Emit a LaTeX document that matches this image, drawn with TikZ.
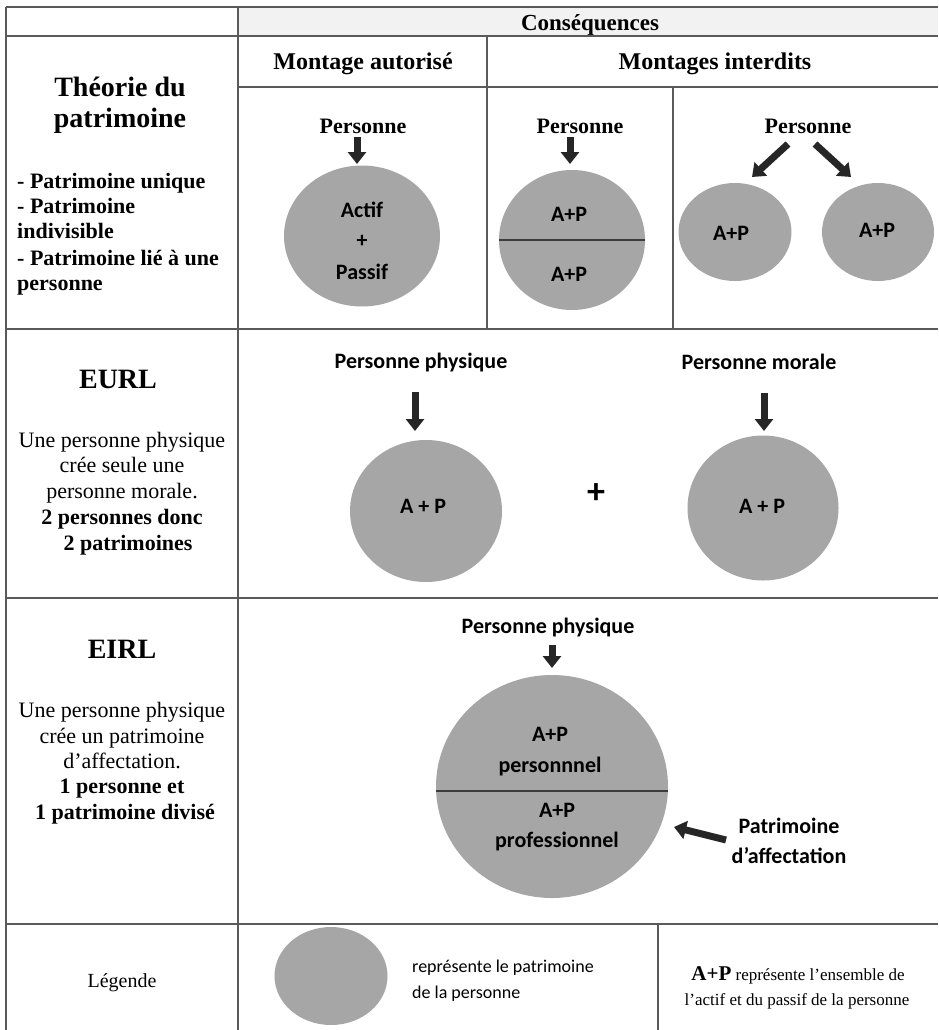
\documentclass[tikz,border=0pt]{standalone}
\usepackage{fontspec}
\setmainfont{Liberation Serif}
\newfontfamily\calfont{Carlito}
\usetikzlibrary{shapes.geometric,arrows.meta}
\definecolor{gridcol}{HTML}{5A5A5A}
\definecolor{patcol}{HTML}{A6A6A6}
\definecolor{arrcol}{HTML}{262626}
\definecolor{headcol}{HTML}{F2F2F2}
\begin{document}
\begin{tikzpicture}[x=1pt,y=-1pt,
  grid/.style={draw=gridcol,line width=1.4pt},
  pat/.style={ellipse,fill=patcol,inner sep=0pt,draw=none},
  blk/.style={draw=arrcol,line width=7pt,-{Triangle[width=18pt,length=12pt]}},
  txt/.style={inner sep=0pt,anchor=base,text=black},
  hdA/.style={txt,font=\fontsize{23}{27}\selectfont\bfseries},
  hdB/.style={txt,font=\fontsize{24}{28}\selectfont\bfseries},
  big/.style={txt,font=\fontsize{28}{32}\selectfont\bfseries},
  sb/.style={txt,font=\fontsize{22}{26}\selectfont\bfseries},
  sr/.style={txt,font=\fontsize{22}{26}\selectfont},
  cb/.style={txt,font=\calfont\fontsize{22}{26}\selectfont\bfseries},
  chord/.style={draw=arrcol!90!white,line width=1.3pt}]
% background and bounding box
\fill[white] (0,0) rectangle (938,1030);
\useasboundingbox (0,0) rectangle (938,1030);
\fill[headcol] (238,7) rectangle (938,36);
% table grid
\draw[grid] (6,7) -- (938,7);
\draw[grid] (6,36) -- (938,36);
\draw[grid] (238,87) -- (938,87);
\draw[grid] (6,329) -- (938,329);
\draw[grid] (6,598) -- (938,598);
\draw[grid] (6,924) -- (938,924);
\draw[grid] (6,7) -- (6,1030);
\draw[grid] (238,7) -- (238,1030);
\draw[grid] (487,36) -- (487,329);
\draw[grid] (673,87) -- (673,329);
\draw[grid] (658,924) -- (658,1030);
% headers
\node[hdA] (cons) at (590,30.5) {Conséquences};
\node[hdB] (maut) at (363,70) {Montage autorisé};
\node[hdB] (mint) at (715,70) {Montages interdits};
% Theorie du patrimoine
\node[big] (th1) at (120,97) {Théorie du};
\node[big] (th2) at (120,128) {patrimoine};
\node[sb,anchor=base west] (b1) at (17,188) {- Patrimoine unique};
\node[sb,anchor=base west] (b2) at (17,213) {- Patrimoine};
\node[sb,anchor=base west] (b3) at (17,238) {indivisible};
\node[sb,anchor=base west] (b4) at (17,265) {- Patrimoine lié à une};
\node[sb,anchor=base west] (b5) at (17,290) {personne};
% row 1 diagrams
\node[sb] (pers1) at (363,133) {Personne};
\node[sb] (pers2) at (580,133) {Personne};
\node[sb] (pers3) at (808,133) {Personne};
\node[pat,minimum width=156pt,minimum height=141pt] (c1) at (362,236) {};
\node[pat,minimum width=146pt,minimum height=140pt] (c2) at (572,240) {};
\node[pat,minimum width=113pt,minimum height=98pt] (c3a) at (735,232) {};
\node[pat,minimum width=112pt,minimum height=98pt] (c3b) at (878,232) {};
\draw[chord] (c2.west) -- (c2.east);
\node[cb] (actif) at (362,217) {Actif};
\node[cb] (plusA) at (362,247) {+};
\node[cb] (passif) at (362,279) {Passif};
\node[cb] (ap2a) at (569,221) {A+P};
\node[cb] (ap2b) at (569,281) {A+P};
\node[cb] (ap3a) at (731,240) {A+P};
\node[cb] (ap3b) at (877,237) {A+P};
\coordinate (s1) at (357,137); \coordinate (t1) at (357,164);
\coordinate (s2) at (570,137); \coordinate (t2) at (570,164);
\coordinate (s3a) at (788,144); \coordinate (t3a) at (752,177);
\coordinate (s3b) at (815,144); \coordinate (t3b) at (851,177);
\draw[blk] (s1) -- (t1);
\draw[blk] (s2) -- (t2);
\draw[blk] (s3a) -- (t3a);
\draw[blk] (s3b) -- (t3b);
% EURL
\node[big] (eurl) at (118,388) {EURL};
\node[sr] (u1) at (122,447) {Une personne physique};
\node[sr] (u2) at (122,472) {crée seule une};
\node[sr] (u3) at (122,498) {personne morale.};
\node[sb] (u4) at (122,524) {2 personnes donc};
\node[sb] (u5) at (128,550) {2 patrimoines};
\node[cb] (pp1) at (421,368) {Personne physique};
\node[cb] (pm) at (759,369) {Personne morale};
\node[pat,minimum width=152pt,minimum height=142pt] (e1) at (426,511) {};
\node[pat,minimum width=151pt,minimum height=145pt] (e2) at (763,508) {};
\node[cb] (ape1) at (423,513) {A + P};
\node[cb] (ape2) at (762,513) {A + P};
\node[inner sep=0pt,font=\calfont\fontsize{36}{40}\selectfont\bfseries] (plusB) at (596,494) {+};
\coordinate (s4) at (415,392); \coordinate (t4) at (415,431);
\coordinate (s5) at (764,393); \coordinate (t5) at (764,431);
\draw[blk] (s4) -- (t4);
\draw[blk] (s5) -- (t5);
% EIRL
\node[big] (eirl) at (122,658) {EIRL};
\node[sr] (v1) at (122,717) {Une personne physique};
\node[sr] (v2) at (122,743) {crée un patrimoine};
\node[sr] (v3) at (122,768) {d’affectation.};
\node[sb] (v4) at (122,793) {1 personne et};
\node[sb] (v5) at (125,819) {1 patrimoine divisé};
\node[cb] (pp2) at (548,633) {Personne physique};
\node[pat,minimum width=232pt,minimum height=223pt] (f) at (552,786.5) {};
\draw[chord] ([yshift=-4.5pt]f.west) -- ([yshift=-4.5pt]f.east);
\node[cb] (apf1) at (550,741) {A+P};
\node[cb] (apf2) at (550,772) {personnnel};
\node[cb] (apf3) at (557,817) {A+P};
\node[cb] (apf4) at (557,847) {professionnel};
\node[cb] (paf1) at (789,833) {Patrimoine};
\node[cb] (paf2) at (789,863) {d’affectation};
\coordinate (s6) at (552,645); \coordinate (t6) at (552,668);
\coordinate (s7) at (726,840); \coordinate (t7) at (674,827);
\draw[blk] (s6) -- (t6);
\draw[blk] (s7) -- (t7);
% Legend
\node[txt,font=\fontsize{20}{24}\selectfont] (leg) at (122,987) {Légende};
\node[pat,minimum width=113pt,minimum height=98pt] (lg) at (331,976) {};
\node[txt,anchor=base west,font=\calfont\fontsize{18}{22}\selectfont] (lt1) at (412,972) {représente le patrimoine};
\node[txt,anchor=base west,font=\calfont\fontsize{18}{22}\selectfont] (lt2) at (412,998) {de la personne};
\node[txt,font=\fontsize{17}{20}\selectfont] (lr1) at (798,980) {{\fontsize{21}{24}\selectfont\bfseries A+P} représente l’ensemble de};
\node[txt,font=\fontsize{17}{20}\selectfont] (lr2) at (797,1005) {l’actif et du passif de la personne};
\end{tikzpicture}
\end{document}
